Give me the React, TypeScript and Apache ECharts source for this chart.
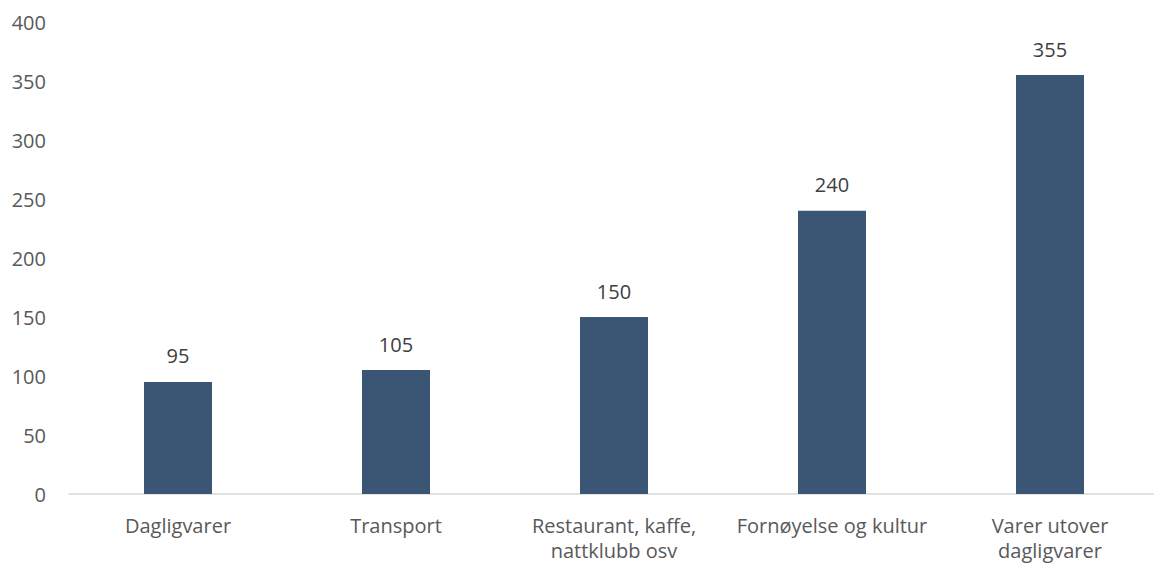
import React, { useEffect, useRef } from "react";
import * as echarts from "echarts";

const categories = [
  "Dagligvarer",
  "Transport",
  "Restaurant, kaffe,\nnattklubb osv",
  "Fornøyelse og kultur",
  "Varer utover\ndagligvarer",
];
const values = [95, 105, 150, 240, 355];
const yMin = 0;
const yMax = 400;
const yInterval = 50;

const FONT = "'Open Sans', 'Noto Sans', sans-serif";

export default function App() {
  const ref = useRef<HTMLDivElement>(null);
  useEffect(() => {
    if (!ref.current) return;
    const chart = echarts.init(ref.current, undefined, { renderer: "svg" });
    chart.setOption({
      animation: false,
      backgroundColor: "#ffffff",
      grid: { left: 69, right: 11, top: 22, bottom: 73, containLabel: false },
      xAxis: {
        type: "category",
        data: categories,
        axisLine: { show: true, lineStyle: { color: "#D9D9D9", width: 1.5 } },
        axisTick: { show: false },
        axisLabel: {
          color: "#595959",
          fontFamily: FONT,
          fontSize: 20,
          lineHeight: 25,
          margin: 19,
          interval: 0,
        },
      },
      yAxis: {
        type: "value",
        min: yMin,
        max: yMax,
        interval: yInterval,
        axisLine: { show: false },
        axisTick: { show: false },
        splitLine: { show: false },
        axisLabel: {
          color: "#595959",
          fontFamily: FONT,
          fontSize: 20,
          margin: 23,
        },
      },
      series: [
        {
          type: "bar",
          data: values,
          barWidth: 68,
          itemStyle: { color: "#3A5674" },
          label: {
            show: true,
            position: "top",
            distance: 16,
            color: "#404040",
            fontFamily: FONT,
            fontSize: 20,
          },
        },
      ],
    });
    return () => chart.dispose();
  }, []);
  return (
    <div
      style={{
        position: "absolute",
        left: 0,
        top: 0,
        width: 1154,
        height: 567,
        overflow: "hidden",
        background: "#ffffff",
      }}
    >
      <div ref={ref} style={{ width: 1170, height: 567 }} />
    </div>
  );
}
